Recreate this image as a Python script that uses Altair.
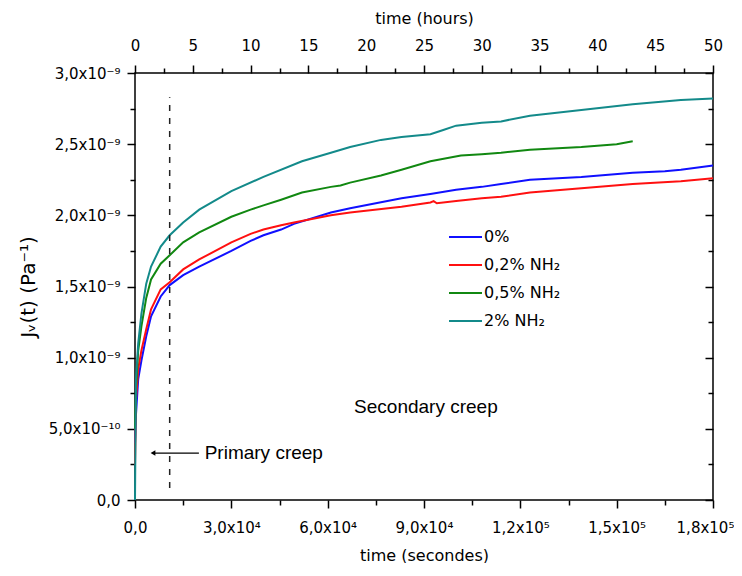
import altair as alt
import pandas as pd

series_names = ["0%", "0,2% NH₂", "0,5% NH₂", "2% NH₂"]
series_colors = ["#1010ff", "#ff1010", "#118811", "#138a8a"]

t_blue = [0, 300, 1000, 2000, 3500, 5000, 8000, 10800, 15000, 20000, 30000, 36000, 40000, 45500, 49500,
          61000, 67000, 83000, 92000, 100000, 108000, 114000, 123000, 139000, 155000, 165000, 170000, 180000]
j_blue = [0.40, 0.60, 0.85, 0.98, 1.15, 1.29, 1.43, 1.51, 1.58, 1.64, 1.75, 1.82, 1.86, 1.90, 1.94,
          2.02, 2.05, 2.12, 2.15, 2.18, 2.20, 2.22, 2.25, 2.27, 2.30, 2.31, 2.32, 2.35]

t_red = [0, 300, 1000, 2000, 3500, 5000, 8000, 10800, 15000, 20000, 30000, 36000, 40000, 45500, 49500,
         61000, 67000, 83000, 92000, 93000, 94000, 100000, 108000, 114000, 123000, 139000, 155000, 170000, 180000]
j_red = [0.25, 0.70, 0.92, 1.05, 1.20, 1.34, 1.48, 1.53, 1.62, 1.69, 1.81, 1.87, 1.90, 1.93, 1.95,
         2.00, 2.02, 2.06, 2.09, 2.10, 2.085, 2.10, 2.12, 2.13, 2.16, 2.19, 2.22, 2.24, 2.26]

t_green = [0, 300, 1000, 2000, 3500, 5000, 8000, 10800, 15000, 20000, 30000, 36000, 40000, 45500, 52000,
           61000, 64000, 67000, 76600, 83000, 92000, 101500, 108000, 114000, 123000, 139000, 150000, 155000]
j_green = [0.50, 0.78, 1.05, 1.22, 1.42, 1.55, 1.66, 1.72, 1.81, 1.88, 1.99, 2.04, 2.07, 2.11, 2.16,
           2.20, 2.21, 2.23, 2.28, 2.32, 2.38, 2.42, 2.43, 2.44, 2.46, 2.48, 2.50, 2.52]

t_teal = [0, 300, 1000, 2000, 3500, 5000, 8000, 10800, 15000, 20000, 30000, 40000, 52000,
          61000, 67000, 76600, 83000, 92000, 96000, 100000, 108000, 114000, 123000, 139000, 155000, 170000, 180000]
j_teal = [0.00, 0.85, 1.10, 1.31, 1.52, 1.64, 1.78, 1.86, 1.95, 2.04, 2.17, 2.27, 2.38,
          2.44, 2.48, 2.53, 2.55, 2.57, 2.60, 2.63, 2.65, 2.66, 2.70, 2.74, 2.78, 2.81, 2.82]

x_major = [0, 30000, 60000, 90000, 120000, 150000, 180000]
x_major_labels = ["0,0", "3,0x10⁴", "6,0x10⁴", "9,0x10⁴", "1,2x10⁵", "1,5x10⁵", "1,8x10⁵"]
x_minor = [15000, 45000, 75000, 105000, 135000, 165000]
hours_major = [0, 5, 10, 15, 20, 25, 30, 35, 40, 45, 50]
hours_minor = [2.5, 7.5, 12.5, 17.5, 22.5, 27.5, 32.5, 37.5, 42.5, 47.5]
y_major = [0.0, 0.5, 1.0, 1.5, 2.0, 2.5, 3.0]
y_major_labels = ["0,0", "5,0x10⁻¹⁰", "1,0x10⁻⁹", "1,5x10⁻⁹", "2,0x10⁻⁹", "2,5x10⁻⁹", "3,0x10⁻⁹"]
y_minor = [0.25, 0.75, 1.25, 1.75, 2.25, 2.75]

primary_t = [10800]
primary_y0 = [0.084]
primary_y1 = [2.83]
arrow_t_tail = [19900]
arrow_t_head = [5600]
arrow_y = [0.33]
primary_label_t = [21700]
secondary_label = ["Secondary creep"]
secondary_t = [90600]
secondary_y = [0.65]

rows = []
for name, ts, js in zip(series_names, [t_blue, t_red, t_green, t_teal], [j_blue, j_red, j_green, j_teal]):
    for t, j in zip(ts, js):
        rows.append({"series": name, "t": t, "J": j})
df = pd.DataFrame(rows)


def label_expr(values, labels):
    s = "''"
    for v, l in reversed(list(zip(values, labels))):
        s = f"abs(datum.value - {v}) < 1e-6 ? '{l}' : " + s
    return s


FONT = "DejaVu Sans"
xs = alt.Scale(domain=[0, 180000], nice=False, zero=False)
ys = alt.Scale(domain=[0, 3.0], nice=False, zero=False)

common_axis = dict(grid=False, domain=False, tickColor="black", tickWidth=1.5,
                   labelFont=FONT, labelColor="black", labelFontSize=15,
                   titleFont=FONT, titleColor="black", titleFontWeight="normal")

ax_bottom = alt.Axis(orient="bottom", values=x_major, labelExpr=label_expr(x_major, x_major_labels),
                     tickSize=8, labelPadding=12, title="time (secondes)", titleFontSize=16,
                     titlePadding=12, labelFlush=False, labelOverlap=False,
                     labelOffset={"condition": {"test": "datum.value >= 179999", "value": -8}, "value": 0},
                     **common_axis)
ax_left = alt.Axis(orient="left", values=y_major, labelExpr=label_expr(y_major, y_major_labels),
                   tickSize=8, labelPadding=7, title="Jᵥ(t) (Pa⁻¹)", titleFontSize=20,
                   titlePadding=10, labelFlush=False, labelOverlap=False, **common_axis)
ax_top = alt.Axis(orient="top", values=[h * 3600 for h in hours_major],
                  labelExpr="format(datum.value / 3600, 'd')", tickSize=8, labelPadding=12,
                  title="time (hours)", titleFontSize=16, titlePadding=12,
                  labelFlush=False, labelOverlap=False, **common_axis)
ax_right = alt.Axis(orient="right", values=y_major, labels=False, tickSize=8, offset=-8,
                    title=None, **common_axis)
ax_bottom_minor = alt.Axis(orient="bottom", values=x_minor, labels=False, tickSize=5, title=None, **common_axis)
ax_left_minor = alt.Axis(orient="left", values=y_minor, labels=False, tickSize=5, title=None, **common_axis)
ax_top_minor = alt.Axis(orient="top", values=[h * 3600 for h in hours_minor], labels=False, tickSize=5,
                        title=None, **common_axis)
ax_right_minor = alt.Axis(orient="right", values=y_minor, labels=False, tickSize=5, offset=-5,
                          title=None, **common_axis)

lines = alt.Chart(df).mark_line(strokeWidth=2).encode(
    x=alt.X("t:Q", scale=xs, axis=ax_bottom),
    y=alt.Y("J:Q", scale=ys, axis=ax_left),
    color=alt.Color("series:N", scale=alt.Scale(domain=series_names, range=series_colors),
                    legend=alt.Legend(title=None, orient="none", legendX=313, legendY=155,
                                      symbolType="stroke", symbolSize=1089, symbolStrokeWidth=2,
                                      labelFont=FONT, labelFontSize=16, labelColor="black",
                                      rowPadding=10, clipHeight=18, labelOffset=1)),
    order="t:Q",
)

ann = pd.DataFrame({"t": primary_t, "y0": primary_y0, "y1": primary_y1})
dashed = alt.Chart(ann).mark_rule(strokeDash=[6, 7], strokeWidth=1.5, color="#222222").encode(
    x=alt.X("t:Q", scale=xs, axis=ax_top),
    y=alt.Y("y0:Q", scale=ys, axis=ax_right),
    y2="y1:Q",
)

arr = pd.DataFrame({"tail": arrow_t_tail, "head": arrow_t_head, "y": arrow_y,
                    "lab": ["Primary creep"], "lt": primary_label_t})
arrow_line = alt.Chart(arr).mark_rule(strokeWidth=1.2, color="black").encode(
    x=alt.X("tail:Q", scale=xs, axis=ax_bottom_minor),
    x2="head:Q",
    y=alt.Y("y:Q", scale=ys, axis=ax_left_minor),
)
arrow_head = alt.Chart(arr).mark_point(shape="triangle-left", filled=True, size=30, color="black",
                                       opacity=1).encode(
    x=alt.X("head:Q", scale=xs, axis=ax_top_minor),
    y=alt.Y("y:Q", scale=ys, axis=ax_right_minor),
)
primary_text = alt.Chart(arr).mark_text(align="left", baseline="middle", font="Liberation Sans",
                                        fontSize=19, color="black").encode(
    x=alt.X("lt:Q", scale=xs, axis=None),
    y=alt.Y("y:Q", scale=ys, axis=None),
    text="lab:N",
)
sec = pd.DataFrame({"t": secondary_t, "y": secondary_y, "lab": secondary_label})
secondary_text = alt.Chart(sec).mark_text(align="center", baseline="middle", font="Liberation Sans",
                                          fontSize=19, color="black").encode(
    x=alt.X("t:Q", scale=xs, axis=None),
    y=alt.Y("y:Q", scale=ys, axis=None),
    text="lab:N",
)

chart = alt.layer(lines, dashed, arrow_line, arrow_head, primary_text, secondary_text).resolve_axis(
    x="independent", y="independent"
).properties(
    width=578, height=427, padding={"left": 10, "top": 2, "right": 0, "bottom": 0}
).configure_view(stroke="black", strokeWidth=1.5)

chart.save("out.html", embed_options={"renderer": "svg", "actions": False})
